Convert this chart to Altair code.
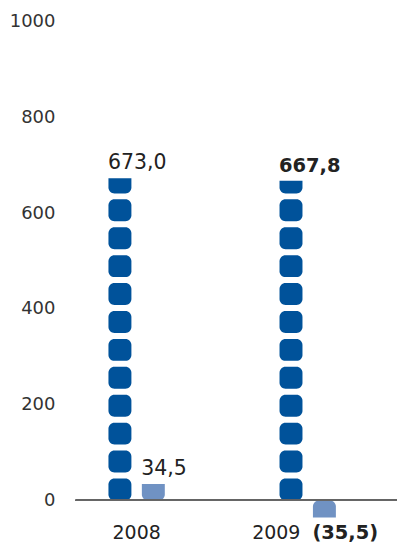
import altair as alt
import pandas as pd

# ---- data ----
years = ["2008", "2009"]
series = ["main", "second"]
dark_values = [673.0, 667.8]
light_values = [34.5, -35.5]
dark_labels = ["673,0", "667,8"]
light_labels = ["34,5", "(35,5)"]
label_bold_dark = [False, True]
label_bold_light = [False, True]
y_ticks = [0, 200, 400, 600, 800, 1000]

DARK = "#00529a"
LIGHT = "#7092c3"

# segment geometry (in data units)
PITCH = 58.3
SEG = 45.8


def segments(year, ser, value):
    out = []
    sign = 1 if value >= 0 else -1
    mag = abs(value)
    k = 0
    while k * PITCH < mag:
        a = k * PITCH
        b = min(a + SEG, mag)
        kind = "full" if a + SEG <= mag else "cut"
        out.append(dict(year=year, series=ser, y0=sign * a, y1=sign * b,
                        kind=kind, sign=sign))
        k += 1
    return out


rows = []
for yr, v in zip(years, dark_values):
    rows += segments(yr, series[0], v)
for yr, v in zip(years, light_values):
    rows += segments(yr, series[1], v)
seg_df = pd.DataFrame(rows)

lab_rows = []
for yr, v, t, b in zip(years, dark_values, dark_labels, label_bold_dark):
    lab_rows.append(dict(year=yr, series=series[0], value=v, label=t, bold=b))
for yr, v, t, b in zip(years, light_values, light_labels, label_bold_light):
    lab_rows.append(dict(year=yr, series=series[1], value=v, label=t, bold=b))
lab_df = pd.DataFrame(lab_rows)

W = 322
YMIN = -35
H = (1000 - YMIN) * 0.48

xscale = alt.Scale(domain=years, paddingInner=0.6706, paddingOuter=0.274, align=0.348)
xoscale = alt.Scale(domain=series, paddingInner=0.313, paddingOuter=0)
yscale = alt.Scale(domain=[YMIN, 1000], nice=False, zero=False)

xenc = alt.X(
    "year:N", scale=xscale, title=None,
    axis=alt.Axis(domain=False, ticks=False, labelAngle=0, labelFont="DejaVu Sans",
                  labelFontSize=19, labelColor="#222222", labelBaseline="alphabetic",
                  labelPadding=21,
                  labelOffset={"condition": {"test": "datum.value == '2009'", "value": -31.5},
                               "value": 0}),
)
xoenc = alt.XOffset("series:N", scale=xoscale)
yaxis = alt.Axis(values=y_ticks, format="d", domain=False, ticks=False, grid=False,
                 labelFont="DejaVu Sans", labelFontSize=18, labelColor="#333333",
                 labelPadding=21, labelOffset=0)

base = alt.Chart(seg_df).encode(
    x=xenc,
    xOffset=xoenc,
    y=alt.Y("y0:Q", scale=yscale, axis=yaxis, title=None),
    y2="y1:Q",
    color=alt.Color("series:N", scale=alt.Scale(domain=series, range=[DARK, LIGHT]), legend=None),
)

full = base.transform_filter("datum.kind == 'full'").mark_bar(cornerRadius=6)
cut_pos = base.transform_filter("datum.kind == 'cut' && datum.sign > 0").mark_bar(
    cornerRadiusBottomLeft=6, cornerRadiusBottomRight=6)
cut_neg = base.transform_filter("datum.kind == 'cut' && datum.sign < 0").mark_bar(
    cornerRadiusTopLeft=6, cornerRadiusTopRight=6)

zero_line = alt.Chart(seg_df).mark_rule(color="#666666", strokeWidth=1.2).encode(
    y=alt.datum(0), x=alt.value(0), x2=alt.value(W))

tbase = alt.Chart(lab_df).encode(
    x=xenc, xOffset=xoenc, y=alt.Y("value:Q", scale=yscale), text="label:N")

txt_reg = tbase.transform_filter("!datum.bold").mark_text(
    align="left", baseline="alphabetic", dx=-12, dy=-9, font="DejaVu Sans",
    fontSize=20.5, color="#222222")
txt_bold_pos = tbase.transform_filter("datum.bold && datum.value > 0").mark_text(
    align="left", baseline="alphabetic", dx=-12, dy=-9, font="DejaVu Sans",
    fontWeight="bold", fontSize=19.5, color="#222222")
txt_bold_neg = tbase.transform_filter("datum.bold && datum.value < 0").mark_text(
    align="left", baseline="alphabetic", dx=-12, dy=22, font="DejaVu Sans",
    fontWeight="bold", fontSize=19.5, color="#222222")

chart = alt.layer(full, cut_pos, cut_neg, zero_line, txt_reg, txt_bold_pos, txt_bold_neg).properties(
    width=W, height=H, padding={"left": 1, "top": 4, "right": 0, "bottom": 0}
).configure_view(stroke=None)

chart.save("out.html", embed_options={"renderer": "svg", "actions": False})
